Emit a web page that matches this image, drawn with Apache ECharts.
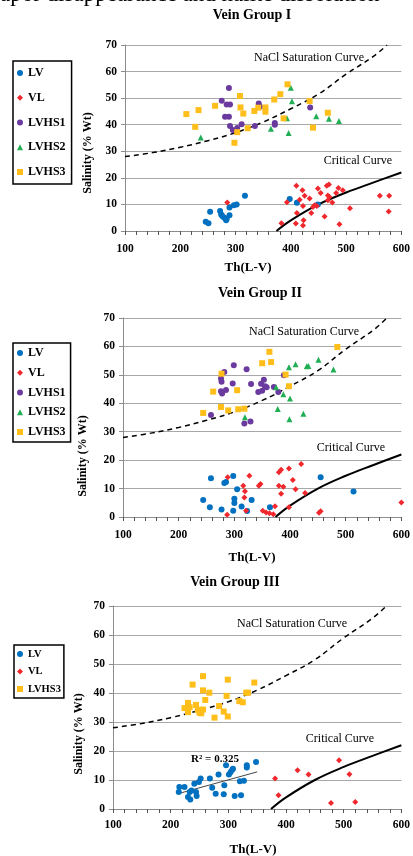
<!DOCTYPE html>
<html>
<head>
<meta charset="utf-8">
<script src="https://cdn.jsdelivr.net/npm/echarts@6/dist/echarts.min.js"></script>
<style>
  html, body { margin: 0; padding: 0; background: #fff; }
  #chart { width: 413px; height: 856px; }
</style>
</head>
<body>
<div id="chart"></div>
<script>
// Homogenization temperature Th(L-V) vs salinity (wt% NaCl eq.), three vein groups

// Axis ticks
const xTicks = [100, 200, 300, 400, 500, 600];
const yTicks = [0, 10, 20, 30, 40, 50, 60, 70];

// Reference curves (temperature, salinity)
const satCurve = [[100, 28.0], [150, 29.5], [200, 31.5], [250, 34.0], [300, 37.0], [350, 41.0],
                  [400, 46.0], [450, 51.5], [500, 59.0], [550, 65.8], [574, 70.0]];
const critCurve = [[374, 0.0], [400, 4.0], [450, 10.0], [500, 14.5], [550, 18.3], [600, 22.0]];

// Vein Group I
const g1LV = [[246, 3.5], [251, 2.9], [254, 7.2], [272, 7.5], [274, 6.2], [276, 5.6], [279, 5.1],
              [283, 4.0], [284, 4.6], [289, 5.9], [289, 8.8], [297, 9.7], [302, 10.0], [317, 13.3],
              [398, 12.0], [411, 10.6], [449, 10.0]];
const g1VL = [[285, 10.7], [383, 2.9], [393, 10.8], [410, 17.0], [411, 6.8], [409, 2.8], [416, 11.8],
              [421, 15.3], [425, 13.3], [422, 9.4], [423, 4.0], [422, 2.1], [434, 12.2], [437, 6.8],
              [440, 9.0], [443, 9.7], [447, 9.4], [449, 16.0], [454, 14.3], [461, 5.5], [465, 17.0],
              [469, 17.5], [467, 13.4], [470, 12.8], [467, 11.6], [475, 10.7], [482, 14.3], [486, 16.2],
              [494, 15.3], [488, 2.5], [507, 8.6], [561, 13.3], [578, 13.3], [577, 7.3]];
const g1LVHS1 = [[288, 53.8], [275, 49.0], [284, 47.6], [290, 47.6], [281, 43.0], [288, 43.0], [290, 39.5],
                 [295, 38.0], [303, 38.8], [311, 40.2], [335, 39.5], [342, 48.0], [344, 46.8], [371, 40.6],
                 [371, 40.0], [435, 46.5]];
const g1LVHS2 = [[237, 35.2], [364, 38.5], [393, 42.4], [396, 36.9], [400, 53.9], [402, 48.8], [446, 43.2],
                 [469, 42.2], [487, 41.4]];
const g1LVHS3 = [[211, 44.0], [227, 39.2], [233, 45.5], [263, 47.1], [298, 33.2], [303, 37.2], [308, 50.8],
                 [309, 46.5], [314, 44.2], [322, 38.7], [334, 45.2], [341, 46.4], [354, 46.5], [354, 44.9],
                 [370, 49.5], [381, 51.5], [387, 42.4], [394, 55.2], [434, 48.9], [440, 38.9], [467, 44.5]];

// Vein Group II
const g2LV = [[244, 6.0], [256, 3.4], [258, 13.6], [277, 2.6], [282, 12.0], [285, 12.3], [298, 14.4],
              [298, 2.2], [300, 6.4], [300, 4.9], [305, 9.8], [313, 3.7], [323, 2.1], [331, 6.0],
              [364, 3.4], [455, 14.0], [514, 9.0]];
const g2VL = [[288, 14.0], [287, 0.8], [316, 11.0], [319, 9.1], [318, 6.9], [327, 14.5], [321, 2.2],
              [344, 11.0], [347, 11.6], [351, 2.2], [357, 1.6], [363, 1.3], [373, 3.8], [370, 1.0],
              [380, 15.7], [384, 16.6], [380, 11.0], [388, 10.6], [384, 8.2], [398, 17.1], [398, 3.4],
              [405, 13.0], [410, 9.8], [420, 18.6], [427, 8.4], [452, 1.5], [455, 2.0], [600, 5.1]];
const g2LVHS1 = [[258, 35.9], [276, 48.7], [277, 47.6], [282, 51.0], [276, 44.2], [278, 43.4], [285, 44.7],
                 [297, 47.0], [299, 53.4], [322, 52.0], [330, 46.8], [318, 32.9], [329, 33.6], [343, 44.0],
                 [348, 46.9], [350, 44.4], [353, 48.3], [355, 46.0], [358, 45.6], [371, 45.7], [379, 44.0],
                 [389, 49.9]];
const g2LVHS2 = [[319, 35.1], [375, 45.6], [378, 38.0], [388, 43.2], [398, 52.7], [400, 41.7], [399, 34.4],
                 [410, 53.7], [424, 36.3], [430, 53.0], [433, 53.1], [451, 55.3], [478, 51.9]];
const g2LVHS3 = [[244, 36.6], [262, 44.1], [277, 50.4], [276, 38.7], [289, 37.5], [305, 44.6], [307, 37.9],
                 [318, 38.1], [350, 54.1], [363, 58.1], [366, 54.5], [392, 50.1], [398, 46.0], [485, 59.8]];

// Vein Group III
const g3LV = [[214, 5.9], [215, 7.6], [224, 7.6], [230, 4.1], [234, 3.3], [233, 5.9], [236, 6.4],
              [241, 8.7], [244, 5.9], [245, 4.5], [249, 9.3], [252, 10.5], [268, 10.5], [272, 7.3],
              [278, 5.3], [283, 11.9], [292, 5.1], [293, 8.2], [296, 15.1], [301, 11.9], [304, 12.8],
              [307, 13.6], [308, 13.9], [311, 4.5], [320, 9.6], [327, 9.7], [322, 4.7], [332, 15.1],
              [332, 14.3], [348, 16.2]];
const g3VL = [[381, 10.5], [387, 4.7], [420, 13.4], [439, 11.9], [478, 2.1], [492, 16.8], [510, 12.0],
              [520, 2.4]];
const g3LVHS3 = [[224, 34.8], [230, 36.6], [230, 33.4], [233, 35.1], [238, 42.9], [244, 35.9], [247, 34.2],
                 [250, 33.2], [253, 33.0], [256, 34.3], [256, 45.8], [256, 40.9], [260, 37.6], [267, 40.1],
                 [276, 31.5], [284, 35.5], [292, 33.6], [299, 44.6], [297, 39.0], [299, 31.9], [319, 37.2],
                 [325, 36.8], [331, 40.1], [334, 40.1], [345, 43.6]];
const g3LVTrend = [[215, 5.4], [350, 12.8]];

// Group names and their marker styles
const groupNames = ['LV', 'VL', 'LVHS1', 'LVHS2', 'LVHS3'];
const groupStyle = {
  LV:    { symbol: 'circle',   size: 6, color: '#0070C0' },
  VL:    { symbol: 'diamond',  size: 6, color: '#F0282D' },
  LVHS1: { symbol: 'circle',   size: 6, color: '#6A3A9E' },
  LVHS2: { symbol: 'triangle', size: 6, color: '#21AE55' },
  LVHS3: { symbol: 'rect',     size: 6, color: '#FFBE1A' }
};

const SERIF = '"Liberation Serif", "DejaVu Serif", serif';

const panels = [
  { title: 'Vein Group I', grid: { left: 125, top: 45, width: 277, height: 186 },
    groups: { LV: g1LV, VL: g1VL, LVHS1: g1LVHS1, LVHS2: g1LVHS2, LVHS3: g1LVHS3 },
    legend: { left: 13, top: 61, gap: 10.75, padding: [5, 6, 5, 4], font: 12 },
    labelMargin: 12 },
  { title: 'Vein Group II', grid: { left: 123, top: 318, width: 284, height: 199 },
    groups: { LV: g2LV, VL: g2VL, LVHS1: g2LVHS1, LVHS2: g2LVHS2, LVHS3: g2LVHS3 },
    legend: { left: 13, top: 343, gap: 5.75, padding: [3, 5, 3, 4], font: 12 },
    labelMargin: 12 },
  { title: 'Vein Group III', grid: { left: 113, top: 606, width: 289, height: 203 },
    groups: { LV: g3LV, VL: g3VL, LVHS3: g3LVHS3 },
    legend: { left: 14, top: 645, gap: 3.5, padding: [2, 3, 2, 3], font: 10.5 },
    labelMargin: 10 }
];

const grids = [], xAxes = [], yAxes = [], legends = [], series = [];

panels.forEach((p, i) => {
  grids.push(Object.assign({ containLabel: false }, p.grid));
  xAxes.push({
    type: 'value', gridIndex: i, min: xTicks[0], max: xTicks[xTicks.length - 1], interval: 100,
    axisLine: { show: true, lineStyle: { color: '#8c8c8c', width: 1 } },
    axisTick: { show: true, length: 4, lineStyle: { color: '#555' } },
    minorTick: { show: true, splitNumber: 5, length: 4, lineStyle: { color: '#555' } },
    splitLine: { show: false },
    axisLabel: { margin: p.labelMargin, color: '#000', fontFamily: SERIF, fontWeight: 'bold', fontSize: 11.5 }
  });
  yAxes.push({
    type: 'value', gridIndex: i, min: yTicks[0], max: yTicks[yTicks.length - 1], interval: 10,
    axisLine: { show: true, lineStyle: { color: '#8c8c8c', width: 1 } },
    axisTick: { show: true, length: 4, lineStyle: { color: '#8c8c8c' } },
    splitLine: { show: true, lineStyle: { color: '#a8a8a8', width: 1 } },
    axisLabel: { margin: 8, color: '#000', fontFamily: SERIF, fontWeight: 'bold', fontSize: 11.5 }
  });

  const names = groupNames.filter(n => p.groups[n]);
  legends.push({
    orient: 'vertical', left: p.legend.left, top: p.legend.top,
    data: names, itemWidth: 6, itemHeight: 6, itemGap: p.legend.gap,
    padding: p.legend.padding, borderColor: '#000', borderWidth: 1.5,
    selectedMode: false,
    textStyle: { fontFamily: SERIF, fontWeight: 'bold', fontSize: p.legend.font, color: '#000', lineHeight: 14 }
  });

  // reference curves
  series.push({
    type: 'line', xAxisIndex: i, yAxisIndex: i, data: satCurve, smooth: 0.4, symbol: 'none',
    lineStyle: { color: '#000', width: 1.5, type: [5, 4] }, silent: true, z: 1
  });
  series.push({
    type: 'line', xAxisIndex: i, yAxisIndex: i, data: critCurve, smooth: 0.4, symbol: 'none',
    lineStyle: { color: '#000', width: 2 }, silent: true, z: 1
  });

  names.forEach(n => {
    const s = groupStyle[n];
    series.push({
      name: n, type: 'scatter', xAxisIndex: i, yAxisIndex: i, data: p.groups[n],
      symbol: s.symbol, symbolSize: s.size, itemStyle: { color: s.color, opacity: 1 }, z: 3
    });
  });
});

// linear trend through the LV inclusions of Vein Group III
series.push({
  type: 'line', xAxisIndex: 2, yAxisIndex: 2, data: g3LVTrend, symbol: 'none',
  lineStyle: { color: '#444', width: 1 }, silent: true, z: 2
});

function txt(x, y, text, size, opts) {
  return {
    type: 'text', x: x, y: y, rotation: (opts && opts.rot) || 0, z: 10,
    style: {
      text: text, fill: '#000',
      font: ((opts && opts.bold) ? 'bold ' : '') + size + 'px ' + SERIF,
      textAlign: (opts && opts.align) || 'center', textVerticalAlign: (opts && opts.valign) || 'middle'
    }
  };
}

const graphics = [
  txt(0, -5, 'apor disappearance and halite dissolution', 23, { align: 'left', valign: 'middle' }),
  // titles
  txt(252, 15, 'Vein Group I', 14, { bold: true }),
  txt(260, 293, 'Vein Group II', 14, { bold: true }),
  txt(235, 582, 'Vein Group III', 14, { bold: true }),
  // x axis names
  txt(248, 268, 'Th(L-V)', 13, { bold: true }),
  txt(252, 558, 'Th(L-V)', 13, { bold: true }),
  txt(253, 850, 'Th(L-V)', 13, { bold: true }),
  // y axis names
  txt(88, 153, 'Salinity (% Wt)', 12, { bold: true, rot: Math.PI / 2 }),
  txt(83, 456, 'Salinity (% Wt)', 12, { bold: true, rot: Math.PI / 2 }),
  txt(79, 734, 'Salinity (% Wt)', 12, { bold: true, rot: Math.PI / 2 }),
  // curve captions
  txt(309, 58, 'NaCl Saturation Curve', 12),
  txt(358, 161, 'Critical Curve', 12),
  txt(304, 332, 'NaCl Saturation Curve', 12),
  txt(351, 448, 'Critical Curve', 12),
  txt(292, 624, 'NaCl Saturation Curve', 12),
  txt(340, 739, 'Critical Curve', 12),
  // fit statistic
  txt(215, 759, 'R² = 0.325', 11, { bold: true })
];

const chart = echarts.init(document.getElementById('chart'), null, { renderer: 'canvas' });
chart.setOption({
  animation: false,
  backgroundColor: '#fff',
  grid: grids, xAxis: xAxes, yAxis: yAxes, legend: legends, series: series,
  graphic: graphics
});
</script>
</body>
</html>
